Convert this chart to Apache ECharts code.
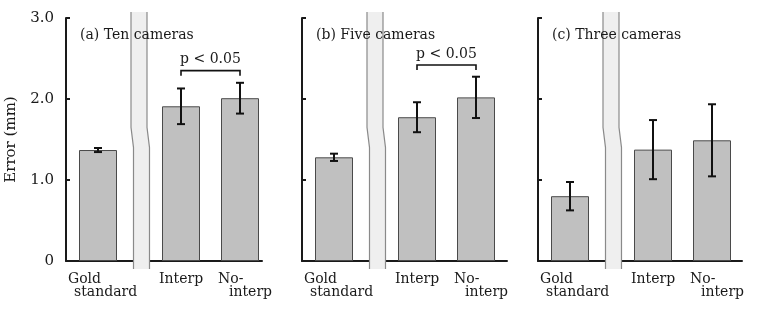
<!DOCTYPE html>
<html>
<head>
    <meta charset="utf-8">
    <title>Error by camera count</title>
    <script type="text/javascript" src="https://cdn.jsdelivr.net/npm/echarts@6/dist/echarts.min.js"></script>
</head>

<body style="margin:0;background:#fff;">
    <div id="main" style="width:757px;height:311px;"></div>
    <script type="text/javascript">
    // data
    var categories = ['Gold\nstandard', 'Interp', 'No-\ninterp'];
    var panelTitles = ['(a) Ten cameras', '(b) Five cameras', '(c) Three cameras'];
    var meanTen = [1.37, 1.91, 2.01];
    var errTen = [0.025, 0.22, 0.19];
    var meanFive = [1.28, 1.775, 2.02];
    var errFive = [0.045, 0.185, 0.255];
    var meanThree = [0.80, 1.375, 1.49];
    var errThree = [0.175, 0.365, 0.445];
    var sigText = 'p < 0.05';
    var sigHeight = [2.35, 2.42, null];   // bracket level per panel, null = none
    var yMin = 0, yMax = 3, yStep = 1;

    var means = [meanTen, meanFive, meanThree];
    var errs = [errTen, errFive, errThree];

    // layout
    var gridLeft = [66, 302, 538];
    var gridWidth = [196, 205, 204];
    var slotX = [32, 115, 174];
    var breakX = 73;
    var labelDx = [[-30, -24], [-22], [-22, -11]];
    var font = 'DejaVu Serif';

    var myChart = echarts.init(document.getElementById('main'));

    var grids = [], xAxes = [], yAxes = [], series = [];

    for (var p = 0; p < 3; p++) {
        grids.push({left: gridLeft[p], top: 18, width: gridWidth[p], height: 243});
        xAxes.push({
            type: 'value', gridIndex: p, min: 0, max: gridWidth[p],
            axisLine: {show: true, lineStyle: {color: '#1a1a1a', width: 2}},
            axisTick: {show: false},
            axisLabel: {show: false},
            splitLine: {show: false}
        });
        yAxes.push({
            type: 'value', gridIndex: p, min: yMin, max: yMax, interval: yStep,
            name: p == 0 ? 'Error (mm)' : '',
            nameLocation: 'middle',
            nameGap: 47,
            nameTextStyle: {fontFamily: font, fontSize: 15, color: '#1a1a1a'},
            axisLine: {show: true, lineStyle: {color: '#1a1a1a', width: 2}},
            axisTick: {show: true, inside: true, length: 4, lineStyle: {color: '#1a1a1a', width: 2}},
            axisLabel: {
                show: p == 0, margin: 12,
                fontFamily: font, fontSize: 15, color: '#1a1a1a',
                formatter: function (v) { return v == 0 ? '0' : v.toFixed(1); }
            },
            splitLine: {show: false}
        });

        var barData = [], errData = [], labData = [];
        for (var i = 0; i < categories.length; i++) {
            barData.push([slotX[i], means[p][i]]);
            errData.push([slotX[i], means[p][i], errs[p][i]]);
            labData.push([slotX[i], i]);
        }

        series.push({
            type: 'bar', xAxisIndex: p, yAxisIndex: p,
            barWidth: 38,
            itemStyle: {color: '#c0c0c0', borderColor: '#4a4a4a', borderWidth: 1},
            data: barData
        });

        series.push({
            type: 'custom', xAxisIndex: p, yAxisIndex: p, z: 4,
            renderItem: function (params, api) {
                var x = api.value(0), m = api.value(1), e = api.value(2);
                var t = api.coord([x, m + e]);
                var b = api.coord([x, m - e]);
                var st = {stroke: '#111', lineWidth: 2};
                return {type: 'group', children: [
                    {type: 'line', shape: {x1: t[0], y1: t[1], x2: b[0], y2: b[1]}, style: st},
                    {type: 'line', shape: {x1: t[0] - 4, y1: t[1], x2: t[0] + 4, y2: t[1]}, style: st},
                    {type: 'line', shape: {x1: b[0] - 4, y1: b[1], x2: b[0] + 4, y2: b[1]}, style: st}
                ]};
            },
            data: errData
        });

        // axis break band
        series.push({
            type: 'custom', xAxisIndex: p, yAxisIndex: p, z: 5,
            renderItem: function (params, api) {
                var top = api.coord([api.value(0), yMax]);
                var k1 = api.coord([api.value(0), 1.65]);
                var k2 = api.coord([api.value(0), 1.4]);
                var bot = api.coord([api.value(0), 0]);
                var c = top[0];
                var left = [[c - 8, top[1] - 6], [c - 8, k1[1]], [c - 5.5, k2[1]], [c - 5.5, bot[1] + 8]];
                var right = [[c + 8, top[1] - 6], [c + 8, k1[1]], [c + 10.5, k2[1]], [c + 10.5, bot[1] + 8]];
                var poly = left.concat(right.slice().reverse());
                var st = {stroke: '#8a8a8a', lineWidth: 1.2, fill: null};
                return {type: 'group', children: [
                    {type: 'polygon', shape: {points: poly}, style: {fill: '#efefef'}},
                    {type: 'polyline', shape: {points: left}, style: st},
                    {type: 'polyline', shape: {points: right}, style: st}
                ]};
            },
            data: [[breakX]]
        });

        // category labels under the axis
        series.push({
            type: 'custom', xAxisIndex: p, yAxisIndex: p, z: 6,
            renderItem: function (params, api) {
                var idx = api.value(1);
                var base = api.coord([api.value(0), 0]);
                var lines = categories[idx].split('\n');
                var kids = [];
                for (var j = 0; j < lines.length; j++) {
                    kids.push({type: 'text', style: {
                        text: lines[j], x: base[0] + labelDx[idx][j], y: base[1] + 18 + j * 13.5,
                        fontFamily: font, fontSize: 14, fill: '#1a1a1a',
                        align: 'left', verticalAlign: 'middle'
                    }});
                }
                return {type: 'group', children: kids};
            },
            data: labData
        });

        // panel title, drawn over the break band
        series.push({
            type: 'custom', xAxisIndex: p, yAxisIndex: p, z: 8,
            renderItem: function (params, api) {
                var pt = api.coord([api.value(0), yMax]);
                return {type: 'text', style: {
                    text: panelTitles[api.value(1)], x: pt[0], y: pt[1] + 17,
                    fontFamily: font, fontSize: 14, fill: '#1a1a1a',
                    align: 'left', verticalAlign: 'middle'
                }};
            },
            data: [[14, p]]
        });

        if (sigHeight[p] != null) {
            series.push({
                type: 'custom', xAxisIndex: p, yAxisIndex: p, z: 6,
                renderItem: function (params, api) {
                    var a = api.coord([api.value(0), api.value(2)]);
                    var b = api.coord([api.value(1), api.value(2)]);
                    return {type: 'group', children: [
                        {type: 'polyline', shape: {points: [[a[0], a[1] + 5], a, b, [b[0], b[1] + 5]]},
                         style: {stroke: '#111', lineWidth: 1.6, fill: null}},
                        {type: 'text', style: {
                            text: sigText, x: (a[0] + b[0]) / 2, y: a[1] - 11,
                            fontFamily: font, fontSize: 14, fill: '#1a1a1a',
                            align: 'center', verticalAlign: 'middle'
                        }}
                    ]};
                },
                data: [[slotX[1], slotX[2], sigHeight[p]]]
            });
        }
    }

    var option = {
        animation: false,
        backgroundColor: '#fff',
        grid: grids,
        xAxis: xAxes,
        yAxis: yAxes,
        series: series
    };
    myChart.setOption(option);
    </script>
</body>
</html>
